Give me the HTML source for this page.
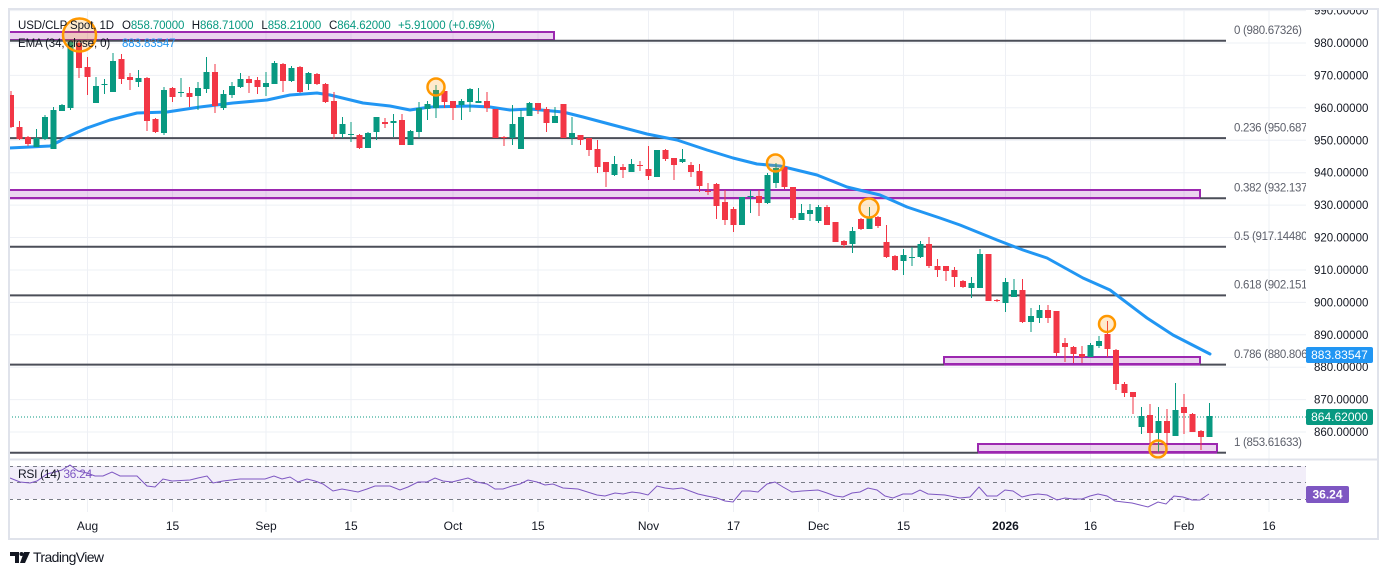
<!DOCTYPE html>
<html><head><meta charset="utf-8">
<style>
html,body{margin:0;padding:0;background:#fff;}
svg{display:block;}
text{font-family:"Liberation Sans",Arial,sans-serif;}
</style></head>
<body>
<svg id="s" width="1388" height="575" viewBox="0 0 1388 575" xmlns="http://www.w3.org/2000/svg">
<defs>
<clipPath id="pane"><rect x="9" y="9" width="1297" height="450"/></clipPath>
<clipPath id="axis"><rect x="1306" y="9" width="72" height="450"/></clipPath>
<clipPath id="rsi"><rect x="9" y="460" width="1297" height="52"/></clipPath>
</defs>
<rect width="1388" height="575" fill="#fff"/>

<!-- grid -->
<g stroke="#eef0f5" stroke-width="1">
<line x1="9" x2="1306" y1="10.6" y2="10.6"/><line x1="9" x2="1306" y1="43" y2="43"/><line x1="9" x2="1306" y1="75.4" y2="75.4"/><line x1="9" x2="1306" y1="107.8" y2="107.8"/><line x1="9" x2="1306" y1="140.3" y2="140.3"/><line x1="9" x2="1306" y1="172.7" y2="172.7"/><line x1="9" x2="1306" y1="205.1" y2="205.1"/><line x1="9" x2="1306" y1="237.5" y2="237.5"/><line x1="9" x2="1306" y1="270" y2="270"/><line x1="9" x2="1306" y1="302.4" y2="302.4"/><line x1="9" x2="1306" y1="334.8" y2="334.8"/><line x1="9" x2="1306" y1="367.2" y2="367.2"/><line x1="9" x2="1306" y1="399.6" y2="399.6"/><line x1="9" x2="1306" y1="432" y2="432"/>
<line y1="9" y2="512" x1="87.5" x2="87.5"/><line y1="9" y2="512" x1="172.5" x2="172.5"/><line y1="9" y2="512" x1="266" x2="266"/><line y1="9" y2="512" x1="351" x2="351"/><line y1="9" y2="512" x1="453" x2="453"/><line y1="9" y2="512" x1="538" x2="538"/><line y1="9" y2="512" x1="648.5" x2="648.5"/><line y1="9" y2="512" x1="733.5" x2="733.5"/><line y1="9" y2="512" x1="818.5" x2="818.5"/><line y1="9" y2="512" x1="903.5" x2="903.5"/><line y1="9" y2="512" x1="1005.5" x2="1005.5"/><line y1="9" y2="512" x1="1090.5" x2="1090.5"/><line y1="9" y2="512" x1="1184" x2="1184"/><line y1="9" y2="512" x1="1269" x2="1269"/>
</g>

<g clip-path="url(#pane)">
<!-- purple boxes -->
<g fill="rgba(156,39,176,0.2)" stroke="#9c27b0" stroke-width="2">
<rect x="9" y="32" width="545" height="8"/>
<rect x="9" y="190" width="1191" height="8"/>
<rect x="944" y="357" width="256" height="7"/>
<rect x="978" y="444" width="239" height="8"/>
</g>
<!-- fib lines -->
<g stroke="#4b4e58" stroke-width="2">
<line x1="9" x2="1226" y1="40.8" y2="40.8"/>
<line x1="9" x2="1226" y1="138.1" y2="138.1"/>
<line x1="1200" x2="1226" y1="198.2" y2="198.2"/>
<line x1="9" x2="1226" y1="246.8" y2="246.8"/>
<line x1="9" x2="1226" y1="295.4" y2="295.4"/>
<line x1="9" x2="944" y1="364.6" y2="364.6"/><line x1="1200" x2="1226" y1="364.6" y2="364.6"/>
<line x1="9" x2="978" y1="452.7" y2="452.7"/><line x1="1217" x2="1226" y1="452.7" y2="452.7"/>
</g>
<line x1="9" x2="1200" y1="198.2" y2="198.2" stroke="#9c27b0" stroke-width="2"/>
<line x1="944" x2="1200" y1="364.6" y2="364.6" stroke="#9c27b0" stroke-width="2"/>
<line x1="978" x2="1217" y1="452.7" y2="452.7" stroke="#9c27b0" stroke-width="2"/>
<!-- fib labels -->
<g fill="#5d606b" font-size="11.5" letter-spacing="-0.3">
<text x="1234" y="30" dy=".35em">0 (980.67326)</text>
<text x="1234" y="127.5" dy=".35em">0.236 (950.68783)</text>
<text x="1234" y="187.5" dy=".35em">0.382 (932.13751)</text>
<text x="1234" y="236" dy=".35em">0.5 (917.14480)</text>
<text x="1234" y="284.7" dy=".35em">0.618 (902.15198)</text>
<text x="1234" y="354" dy=".35em">0.786 (880.80651)</text>
<text x="1234" y="442" dy=".35em">1 (853.61633)</text>
</g>
<!-- close dotted line -->
<line x1="9" x2="1306" y1="417" y2="417" stroke="#089981" stroke-width="1" stroke-dasharray="1 2"/>
<!-- EMA -->
<polyline fill="none" stroke="#2196f3" stroke-width="3" stroke-linejoin="round" stroke-linecap="round" points="9,148 30,147 50,146 60,141 67,137 87,128 110,120 137,113 167,112 200,107 233,103 267,100 290,95 317,93 330,95 363,103 390,106 410,110 430,107 470,106 490,107 510,110 530,109 563,112 583,117 613,125 647,134 677,140 707,150 733,158 757,164 780,166 817,175 847,187 880,195 907,207 940,218 960,225 997,240 1023,250 1047,258 1083,278 1110,290 1147,318 1173,335 1210,354"/>
<!-- candles -->
<g id="c"></g>
<!-- circles -->
<g fill="rgba(255,152,0,0.2)" stroke="#ff9800" stroke-width="2.5">
<circle cx="79.5" cy="35" r="16.5"/>
<circle cx="436" cy="87" r="8.5"/>
<circle cx="775.5" cy="163" r="8.5"/>
<circle cx="869" cy="208" r="9.5"/>
<circle cx="1107" cy="324" r="8"/>
<circle cx="1158" cy="449" r="8.5"/>
</g>
<!-- header -->
<g font-size="11.5" letter-spacing="-0.1">
<text x="18" y="25" dy=".35em" fill="#131722">USD/CLP Spot, 1D</text>
<text x="122" y="25" dy=".35em" fill="#131722">O<tspan fill="#089981">858.70000</tspan></text>
<text x="191.8" y="25" dy=".35em" fill="#131722">H<tspan fill="#089981">868.71000</tspan></text>
<text x="261.4" y="25" dy=".35em" fill="#131722">L<tspan fill="#089981">858.21000</tspan></text>
<text x="329" y="25" dy=".35em" fill="#131722">C<tspan fill="#089981">864.62000</tspan></text>
<text x="398" y="25" dy=".35em" fill="#089981">+5.91000 (+0.69%)</text>
<text x="18" y="43" dy=".35em" fill="#131722">EMA (34, close, 0)</text>
<text x="122" y="43" dy=".35em" fill="#2196f3">883.83547</text>
</g>
</g>

<!-- price axis -->
<g clip-path="url(#axis)" font-size="11.5" fill="#131722">
<text x="1314" y="10.6" dy=".35em">990.00000</text>
<text x="1314" y="43" dy=".35em">980.00000</text>
<text x="1314" y="75.4" dy=".35em">970.00000</text>
<text x="1314" y="107.8" dy=".35em">960.00000</text>
<text x="1314" y="140.3" dy=".35em">950.00000</text>
<text x="1314" y="172.7" dy=".35em">940.00000</text>
<text x="1314" y="205.1" dy=".35em">930.00000</text>
<text x="1314" y="237.5" dy=".35em">920.00000</text>
<text x="1314" y="270" dy=".35em">910.00000</text>
<text x="1314" y="302.4" dy=".35em">900.00000</text>
<text x="1314" y="334.8" dy=".35em">890.00000</text>
<text x="1314" y="367.2" dy=".35em">880.00000</text>
<text x="1314" y="399.6" dy=".35em">870.00000</text>
<text x="1314" y="432" dy=".35em">860.00000</text>
<rect x="1306" y="347" width="67" height="16" rx="2" fill="#2196f3"/>
<text x="1339.5" y="355" dy=".35em" text-anchor="middle" fill="#fff" font-size="12">883.83547</text>
<rect x="1306" y="409" width="67" height="16" rx="2" fill="#089981"/>
<text x="1339.5" y="417" dy=".35em" text-anchor="middle" fill="#fff" font-size="12">864.62000</text>
</g>

<!-- pane separator -->
<line x1="9" x2="1378" y1="459.5" y2="459.5" stroke="#e0e3eb" stroke-width="2"/>

<!-- RSI -->
<rect x="9" y="466" width="1297" height="33" fill="#f2eef9"/>
<g stroke="#787b86" stroke-width="1" stroke-dasharray="4 4">
<line x1="9" x2="1306" y1="466.5" y2="466.5"/>
<line x1="9" x2="1306" y1="482.5" y2="482.5"/>
<line x1="9" x2="1306" y1="499.5" y2="499.5"/>
</g>
<g clip-path="url(#rsi)">
<polyline fill="none" stroke="#7e57c2" stroke-width="1" points="10,478 20,482 30,483 37,481 47,474 55,472 62,470 70,465 78,471 87,473 95,476 103,476 112,472 120,476 137,476 147,486 155,487 163,479 172,481 190,480 198,478 207,476 213,483 223,481 240,479 253,479 265,479 274,476 282,479 290,477 298,482 307,479 315,481 323,484 333,491 342,489 358,492 367,489 375,486 390,486 400,490 408,487 418,482 427,482 435,478 443,481 452,482 460,480 468,478 477,482 487,484 495,489 503,489 512,486 520,484 528,480 537,482 545,485 553,484 563,488 578,489 597,495 605,496 615,493 623,494 632,492 640,493 648,495 657,486 665,488 673,489 682,488 698,494 707,496 717,498 725,501 733,502 742,491 750,491 758,492 767,484 775,482 783,487 792,492 802,491 818,490 827,493 835,496 843,497 852,493 860,492 868,488 877,490 885,496 893,498 903,494 912,494 920,490 928,494 945,495 960,498 970,497 979,487 987,496 997,496 1005,490 1013,491 1022,497 1030,495 1038,494 1047,495 1057,500 1065,498 1073,499 1082,499 1090,496 1098,494 1107,496 1115,501 1123,502 1132,503 1140,505 1148,507 1158,502 1166,504 1174,496 1183,497 1192,500 1200,500 1209,494"/>
</g>
<text x="18" y="474" dy=".35em" font-size="12" letter-spacing="-0.3" fill="#131722">RSI (14) <tspan fill="#7e57c2">36.24</tspan></text>
<rect x="1306" y="486" width="43" height="17" rx="2" fill="#7e57c2"/>
<text x="1327.5" y="494.5" dy=".35em" text-anchor="middle" font-size="12" font-weight="bold" fill="#fff">36.24</text>

<!-- time axis -->
<g font-size="12" fill="#131722" text-anchor="middle">
<text x="87.5" y="526" dy=".35em">Aug</text>
<text x="172.5" y="526" dy=".35em">15</text>
<text x="266" y="526" dy=".35em">Sep</text>
<text x="351" y="526" dy=".35em">15</text>
<text x="453" y="526" dy=".35em">Oct</text>
<text x="538" y="526" dy=".35em">15</text>
<text x="648.5" y="526" dy=".35em">Nov</text>
<text x="733.5" y="526" dy=".35em">17</text>
<text x="818.5" y="526" dy=".35em">Dec</text>
<text x="903.5" y="526" dy=".35em">15</text>
<text x="1005.5" y="526" dy=".35em" font-weight="bold">2026</text>
<text x="1090.5" y="526" dy=".35em">16</text>
<text x="1184" y="526" dy=".35em">Feb</text>
<text x="1269" y="526" dy=".35em">16</text>
</g>

<!-- frame -->
<rect x="9" y="9" width="1369" height="530" fill="none" stroke="#e0e3eb" stroke-width="2"/>

<!-- TradingView logo -->
<g fill="#131722">
<path d="M10 552 h9 v11 h-4 v-7 h-5 z"/>
<circle cx="21.5" cy="554" r="2"/>
<path d="M24 552 h6 l-5 11 h-5 z"/>
</g>
<text x="33" y="562" font-size="14" letter-spacing="-0.6" fill="#131722">TradingView</text>
</svg>
<script>
var D=[
[0,0,91,128,95,127],[1,0,121,140,127,139],[2,0,136,146,137,144],[3,1,129,147,138,147],[4,1,115,140,117,139],[5,1,107,149,110,149],[6,1,104,111,105,111],[7,1,41,110,42,108],[8,0,41,78,43,68],[9,0,57,95,67,77],
[10,1,77,103,86,103],[11,1,79,94,84,85],[12,1,53,92,61,92],[13,0,54,84,59,79],[14,0,73,90,77,80],[15,1,70,87,78,82],[16,0,77,131,78,121],[17,0,118,133,119,132],[18,1,87,135,90,133],[19,0,87,102,88,97],
[20,1,78,97,92,93],[21,0,87,107,93,97],[22,1,82,110,88,96],[23,1,57,93,72,89],[24,0,64,113,72,106],[25,1,90,110,94,108],[26,1,82,98,86,95],[27,1,73,88,79,87],[28,0,76,93,79,83],[29,0,77,94,80,87],
[30,1,72,96,83,87],[31,1,61,84,63,84],[32,0,63,92,64,81],[33,1,66,82,68,81],[34,0,66,93,67,92],[35,1,72,90,73,84],[36,0,73,85,74,84],[37,0,83,103,84,102],[38,0,92,139,101,134],[39,1,117,138,124,134],
[40,1,122,142,134,135],[41,0,134,149,135,148],[42,1,132,148,133,148],[43,1,117,140,117,132],[44,0,118,128,122,124],[45,1,114,137,121,123],[46,0,114,145,120,145],[47,1,130,145,131,145],[48,1,102,138,108,132],[49,1,101,120,104,109],
[50,1,85,118,90,108],[51,0,87,108,91,102],[52,0,101,120,101,108],[53,1,99,120,101,105],[54,1,88,112,89,102],[55,1,88,103,101,103],[56,0,92,112,101,108],[57,0,109,138,109,138],[58,0,136,146,137,138],[59,1,105,145,124,138],
[60,1,110,149,117,149],[61,1,102,116,103,116],[62,0,103,114,103,110],[63,0,107,132,109,123],[64,1,107,123,116,123],[65,0,104,138,104,138],[66,1,117,145,133,138],[67,0,135,145,135,140],[68,0,138,156,138,150],[69,0,140,173,149,167],
[70,0,162,187,162,172],[71,1,156,176,164,175],[72,0,164,178,167,170],[73,1,159,172,164,172],[74,0,161,171,165,166],[75,0,146,180,169,176],[76,1,150,177,150,177],[77,0,149,161,150,159],[78,0,158,180,158,165],[79,1,149,163,159,162],
[80,0,162,177,165,172],[81,0,164,192,171,186],[82,0,183,195,191,192],[83,0,183,219,184,206],[84,0,190,225,202,220],[85,0,207,232,209,225],[86,1,197,225,197,225],[87,1,190,213,196,197],[88,0,190,216,196,203],[89,1,173,204,175,203],
[90,1,163,188,168,183],[91,0,166,189,167,187],[92,0,187,220,187,218],[93,1,204,220,213,220],[94,1,204,221,210,214],[95,1,205,223,207,221],[96,0,205,225,207,225],[97,0,222,242,222,242],[98,0,240,248,241,245],[99,1,227,253,231,244],
[100,0,218,230,219,229],[101,1,207,229,217,229],[102,0,216,228,217,226],[103,0,225,258,242,257],[104,0,255,271,256,270],[105,1,249,275,255,261],[106,1,247,266,257,258],[107,1,241,258,244,257],[108,0,237,268,244,266],[109,0,259,277,266,270],
[110,0,266,281,266,271],[111,0,267,287,270,277],[112,0,280,288,281,287],[113,1,277,298,283,288],[114,1,249,288,254,288],[115,0,254,301,254,301],[116,0,299,302,300,301],[117,1,278,312,282,303],[118,1,279,297,290,297],[119,0,279,323,290,322],
[120,1,308,332,316,322],[121,1,305,323,310,318],[122,0,305,323,310,318],[123,0,311,356,311,353],[124,0,338,362,343,347],[125,0,346,363,347,354],[126,0,346,363,354,357],[127,1,343,357,345,357],[128,1,336,348,341,346],[129,0,321,357,334,349],
[130,0,349,390,350,384],[131,0,382,397,384,393],[132,0,392,414,392,397],[133,1,407,434,416,427],[134,0,404,445,415,433],[135,1,407,452,421,433],[136,0,409,447,421,433],[137,1,383,436,410,436],[138,0,394,434,407,413],[139,0,413,432,414,432],
[140,0,430,450,431,437],[141,1,403,437,416,437]
];
var s='';
for(var k=0;k<D.length;k++){var d=D[k];var x=11+8.5*d[0];var col=d[1]?'#089981':'#f23645';
s+='<line x1="'+x+'" y1="'+d[2]+'" x2="'+x+'" y2="'+d[3]+'" stroke="'+col+'" stroke-width="1"/>';
s+='<rect x="'+(x-3)+'" y="'+d[4]+'" width="6" height="'+Math.max(1,d[5]-d[4])+'" fill="'+col+'"/>';}
document.getElementById('c').innerHTML=s;
</script>
</body></html>
